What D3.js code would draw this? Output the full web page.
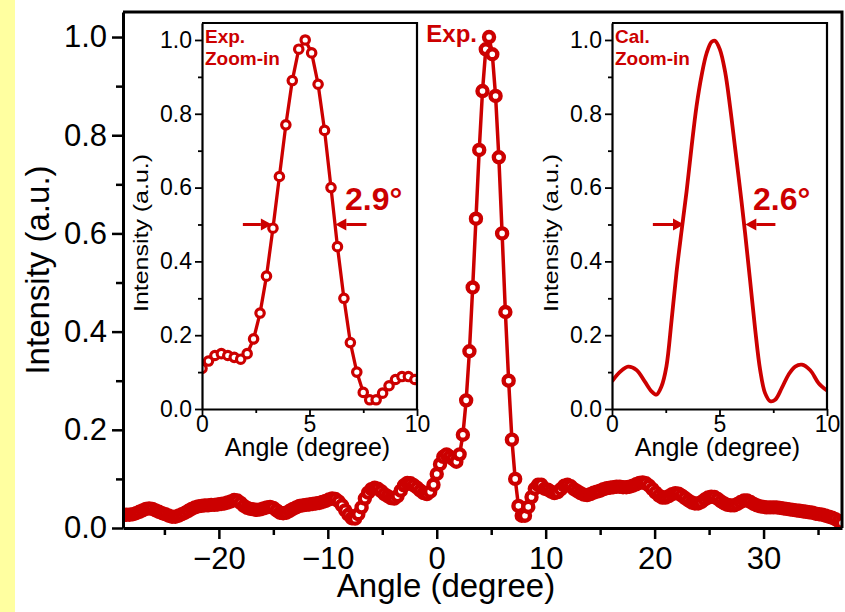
<!DOCTYPE html>
<meta charset="utf-8">
<style>
body { margin: 0; background: #fff; }
svg { display: block; font-family: Arial, "Liberation Sans", sans-serif; }
.axis path, .axis line { stroke: #000; fill: none; }
.main .axis path { stroke-width: 3; }
.main .axis line { stroke-width: 2.5; }
.main .axis text { font-size: 31px; fill: #000; }
.inset .axis path { stroke-width: 2.2; }
.inset .axis line { stroke-width: 1.8; }
.inset .axis text { font-size: 23px; fill: #000; }
</style>
<body>
<script src="https://d3js.org/d3.v7.min.js"></script>
<script>

// measured scan, one point every 0.3 degree from -28.8
var expStart = -28.8, expStep = 0.3;
var expIntensity = [
  0.026, 0.027, 0.027, 0.028, 0.030, 0.033, 0.036, 0.039, 0.040, 0.039,
  0.036, 0.033, 0.030, 0.028, 0.025, 0.023, 0.023, 0.025, 0.028, 0.031,
  0.035, 0.039, 0.042, 0.044, 0.045, 0.046, 0.046, 0.047, 0.047, 0.048,
  0.049, 0.050, 0.052, 0.054, 0.057, 0.056, 0.051, 0.045, 0.041, 0.039,
  0.038, 0.037, 0.038, 0.040, 0.042, 0.043, 0.041, 0.036, 0.031, 0.030,
  0.031, 0.035, 0.039, 0.042, 0.045, 0.046, 0.047, 0.048, 0.049, 0.050,
  0.051, 0.053, 0.055, 0.058, 0.060, 0.059, 0.054, 0.046, 0.036, 0.027,
  0.020, 0.019, 0.028, 0.042, 0.060, 0.072, 0.079, 0.082, 0.080, 0.075,
  0.069, 0.065, 0.061, 0.060, 0.065, 0.076, 0.087, 0.092, 0.091, 0.087,
  0.082, 0.076, 0.071, 0.069, 0.074, 0.088, 0.110, 0.130, 0.145, 0.150,
  0.145, 0.140, 0.135, 0.150, 0.190, 0.260, 0.360, 0.490, 0.630, 0.770,
  0.890, 0.975, 1.000, 0.965, 0.880, 0.755, 0.600, 0.440, 0.300, 0.180,
  0.100, 0.045, 0.025, 0.025, 0.043, 0.063, 0.080, 0.088, 0.088, 0.080,
  0.078, 0.074, 0.071, 0.073, 0.079, 0.086, 0.088, 0.085, 0.079, 0.075,
  0.071, 0.068, 0.067, 0.069, 0.072, 0.074, 0.076, 0.079, 0.081, 0.082,
  0.083, 0.084, 0.084, 0.083, 0.083, 0.084, 0.086, 0.089, 0.092, 0.093,
  0.091, 0.086, 0.079, 0.072, 0.066, 0.062, 0.062, 0.065, 0.069, 0.071,
  0.070, 0.066, 0.061, 0.056, 0.052, 0.050, 0.050, 0.053, 0.058, 0.062,
  0.064, 0.063, 0.059, 0.054, 0.050, 0.047, 0.046, 0.046, 0.049, 0.053,
  0.056, 0.056, 0.053, 0.049, 0.046, 0.044, 0.043, 0.042, 0.042, 0.042,
  0.042, 0.041, 0.040, 0.039, 0.038, 0.037, 0.036, 0.035, 0.034, 0.033,
  0.032, 0.031, 0.029, 0.028, 0.027, 0.025, 0.023, 0.021, 0.018, 0.014,
  0.010
];

// calculated pattern (zoom-in)
var calAngle = [0, 0.36, 0.75, 1.14, 1.52, 1.84, 2.07, 2.3, 2.53, 2.77, 3.0, 3.23, 3.47, 3.7,
  3.93, 4.17, 4.4, 4.63, 4.79, 5.02, 5.26, 5.49, 5.72, 5.96, 6.19, 6.42, 6.66, 6.89,
  7.12, 7.36, 7.59, 7.9, 8.21, 8.52, 8.83, 9.22, 9.61, 10.0];
var calIntensity = [0.075, 0.100, 0.115, 0.106, 0.075, 0.048, 0.039, 0.061, 0.115, 0.240, 0.370, 0.480, 0.590, 0.710,
  0.820, 0.905, 0.964, 0.995, 0.998, 0.974, 0.914, 0.820, 0.710, 0.594, 0.477, 0.350, 0.215, 0.106,
  0.043, 0.021, 0.025, 0.057, 0.093, 0.115, 0.120, 0.105, 0.070, 0.050];

// half-maximum arrows [tail, tip] in inset angle units
var expArrows = [[1.9, 3.25], [7.65, 6.2]];
var calArrows = [[1.9, 3.35], [7.6, 6.2]];
var halfMax = 0.5;

var mainXTicks = [-20, -10, 0, 10, 20, 30];
var mainXMinor = [-25, -15, -5, 5, 15, 25, 35];
var mainYTicks = [0, 0.2, 0.4, 0.6, 0.8, 1.0];
var mainYMinor = [0.1, 0.3, 0.5, 0.7, 0.9];
var insetXTicks = [0, 5, 10];
var insetXMinor = [2.5, 7.5];

var red = "#cc0000";
var W = 845, H = 612;

var expData = expIntensity.map(function(v, i) {
  return { x: +(expStart + i * expStep).toFixed(1), y: v };
});
var calData = calAngle.map(function(a, i) { return { x: a, y: calIntensity[i] }; });

var svg = d3.select("body").append("svg")
    .attr("width", W).attr("height", H);

svg.append("rect").attr("width", W).attr("height", H).attr("fill", "#fff");
svg.append("rect").attr("width", 15).attr("height", H).attr("fill", "#ffffa0");

// ---------- main plot ----------
var m = {left: 123, top: 12, right: 842, bottom: 528};
var x = d3.scaleLinear().domain([-28.8, 37.2]).range([m.left, m.right]);
var y = d3.scaleLinear().domain([0, 1.051]).range([m.bottom, m.top]);

var main = svg.append("g").attr("class", "main");

svg.append("clipPath").attr("id", "clipMain")
  .append("rect").attr("x", m.left).attr("y", m.top)
  .attr("width", m.right - m.left).attr("height", m.bottom - m.top);

var line = d3.line().x(function(d) { return x(d.x); }).y(function(d) { return y(d.y); });

var plot = main.append("g").attr("clip-path", "url(#clipMain)");
plot.append("path").attr("d", line(expData))
  .attr("fill", "none").attr("stroke", red).attr("stroke-width", 3.5);
plot.selectAll("circle").data(expData).enter().append("circle")
  .attr("cx", function(d) { return x(d.x); })
  .attr("cy", function(d) { return y(d.y); })
  .attr("r", 5).attr("fill", "#fff").attr("stroke", red).attr("stroke-width", 4.4);

// frame top and right
main.append("path").attr("d", "M" + m.left + "," + m.top + "H" + m.right + "V" + m.bottom)
  .attr("fill", "none").attr("stroke", "#000").attr("stroke-width", 3);

main.append("g").attr("class", "axis")
  .attr("transform", "translate(0," + m.bottom + ")")
  .call(d3.axisBottom(x).tickValues(mainXMinor).tickSize(7).tickSizeOuter(0).tickFormat(""))
  .select(".domain").remove();
main.append("g").attr("class", "axis")
  .attr("transform", "translate(0," + m.bottom + ")")
  .call(d3.axisBottom(x).tickValues(mainXTicks).tickSize(11).tickSizeOuter(0).tickPadding(8));

main.append("g").attr("class", "axis")
  .attr("transform", "translate(" + m.left + ",0)")
  .call(d3.axisLeft(y).tickValues(mainYMinor).tickSize(7).tickSizeOuter(0).tickFormat(""))
  .select(".domain").remove();
main.append("g").attr("class", "axis")
  .attr("transform", "translate(" + m.left + ",0)")
  .call(d3.axisLeft(y).tickValues(mainYTicks).tickSize(11).tickSizeOuter(0).tickPadding(5)
    .tickFormat(d3.format(".1f")));

main.append("text")
  .attr("transform", "translate(49,270) rotate(-90)")
  .attr("text-anchor", "middle").style("font-size", "33px")
  .text("Intensity (a.u.)");
main.append("text")
  .attr("x", 446).attr("y", 597)
  .attr("text-anchor", "middle").style("font-size", "33px")
  .text("Angle (degree)");
main.append("text")
  .attr("x", 477).attr("y", 42).attr("text-anchor", "end")
  .style("font-size", "24px").style("font-weight", "bold").attr("fill", red)
  .text("Exp.");

// ---------- insets ----------
function drawInset(id, left, right, top, bottom, opts) {
  var ix = d3.scaleLinear().domain([0, 10]).range([left, right]);
  var iy = d3.scaleLinear().domain([0, 1.046]).range([bottom, top]);
  var g = svg.append("g").attr("class", "inset");

  g.append("rect").attr("x", left).attr("y", top)
    .attr("width", right - left).attr("height", bottom - top).attr("fill", "#fff");

  svg.append("clipPath").attr("id", id)
    .append("rect").attr("x", left).attr("y", top)
    .attr("width", right - left).attr("height", bottom - top);
  var p = g.append("g").attr("clip-path", "url(#" + id + ")");

  var l = d3.line().x(function(d) { return ix(d.x); }).y(function(d) { return iy(d.y); });
  if (opts.curve) l.curve(d3.curveCatmullRom);
  p.append("path").attr("d", l(opts.data))
    .attr("fill", "none").attr("stroke", red).attr("stroke-width", opts.width);
  if (opts.markers) {
    p.selectAll("circle").data(opts.data).enter().append("circle")
      .attr("cx", function(d) { return ix(d.x); })
      .attr("cy", function(d) { return iy(d.y); })
      .attr("r", 4.2).attr("fill", "#fff").attr("stroke", red).attr("stroke-width", 3.2);
  }

  g.append("path").attr("d", "M" + left + "," + top + "H" + right + "V" + bottom)
    .attr("fill", "none").attr("stroke", "#000").attr("stroke-width", 2.2);

  g.append("g").attr("class", "axis")
    .attr("transform", "translate(0," + bottom + ")")
    .call(d3.axisBottom(ix).tickValues(insetXMinor).tickSize(4).tickSizeOuter(0).tickFormat(""))
    .select(".domain").remove();
  g.append("g").attr("class", "axis")
    .attr("transform", "translate(0," + bottom + ")")
    .call(d3.axisBottom(ix).tickValues(insetXTicks).tickSize(7).tickSizeOuter(0).tickPadding(0));
  g.append("g").attr("class", "axis")
    .attr("transform", "translate(" + left + ",0)")
    .call(d3.axisLeft(iy).tickValues(mainYMinor).tickSize(4).tickSizeOuter(0).tickFormat(""))
    .select(".domain").remove();
  g.append("g").attr("class", "axis")
    .attr("transform", "translate(" + left + ",0)")
    .call(d3.axisLeft(iy).tickValues(mainYTicks).tickSize(7).tickSizeOuter(0).tickPadding(3)
      .tickFormat(d3.format(".1f")));

  g.append("text")
    .attr("transform", "translate(" + (left - 54) + ",233) rotate(-90)")
    .attr("text-anchor", "middle").style("font-size", "20px")
    .attr("textLength", 158).attr("lengthAdjust", "spacingAndGlyphs")
    .text("Intensity (a.u.)");
  g.append("text")
    .attr("x", (left + right) / 2 - 2).attr("y", 456)
    .attr("text-anchor", "middle").style("font-size", "25px")
    .text("Angle (degree)");

  g.append("text").attr("x", left + 3).attr("y", 43)
    .style("font-size", "19px").style("font-weight", "bold").attr("fill", red)
    .text(opts.name);
  g.append("text").attr("x", left + 3).attr("y", 65)
    .style("font-size", "19px").style("font-weight", "bold").attr("fill", red)
    .text("Zoom-in");

  opts.arrows.forEach(function(a) {
    var px1 = ix(a[0]), px2 = ix(a[1]), py = iy(halfMax);
    var dir = px2 > px1 ? 1 : -1, hl = 11, hw = 6;
    g.append("line").attr("x1", px1).attr("x2", px2 - dir * hl)
      .attr("y1", py).attr("y2", py)
      .attr("stroke", red).attr("stroke-width", 3);
    g.append("path")
      .attr("d", "M" + px2 + "," + py + "L" + (px2 - dir * hl) + "," + (py - hw) +
                 "L" + (px2 - dir * hl) + "," + (py + hw) + "Z")
      .attr("fill", red);
  });

  g.append("text").attr("x", opts.labelX).attr("y", 210)
    .style("font-size", "32px").style("font-weight", "bold").attr("fill", red)
    .text(opts.widthLabel);
}

drawInset("clipExp", 202, 417, 23, 409, {
  data: expData.filter(function(d) { return d.x >= -0.1 && d.x <= 10.3; }),
  markers: true, curve: false, width: 3.3,
  name: "Exp.", arrows: expArrows, labelX: 345, widthLabel: "2.9°"
});
drawInset("clipCal", 612, 827, 23, 409, {
  data: calData, markers: false, curve: true, width: 3.8,
  name: "Cal.", arrows: calArrows, labelX: 753, widthLabel: "2.6°"
});

</script>
</body>
